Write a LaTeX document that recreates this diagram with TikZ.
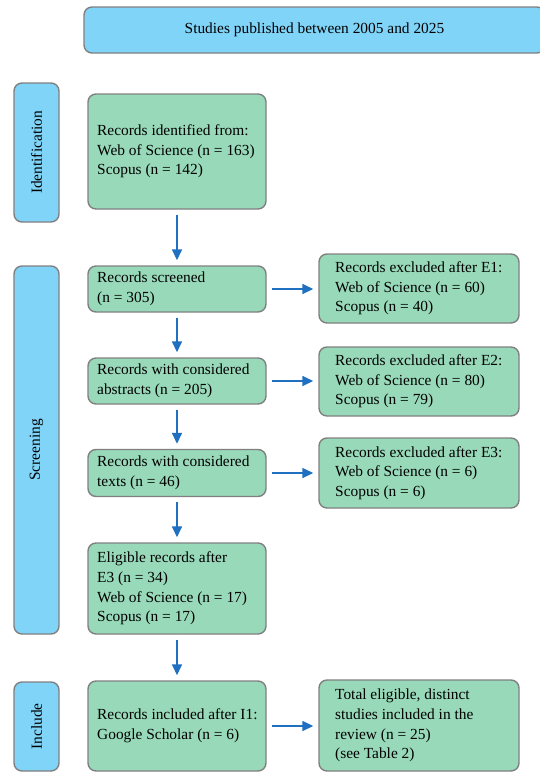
\documentclass[tikz,border=0pt]{standalone}
\usepackage{fontspec}
\setmainfont{Liberation Serif}
\usetikzlibrary{arrows.meta}
\definecolor{boxgreen}{HTML}{98D9B9}
\definecolor{labblue}{HTML}{80D4F8}
\definecolor{edgegray}{HTML}{808080}
\definecolor{arrblue}{HTML}{1F70C1}
\tikzset{
  txtfont/.style={font=\fontsize{15.4}{19.6}\selectfont},
  base/.style={draw=edgegray, line width=1.4pt, rounded corners=8pt, inner sep=0pt, txtfont},
  gbox/.style={base, fill=boxgreen},
  lbl/.style={txtfont, align=left, inner sep=0pt, anchor=west},
  phase/.style={base, fill=labblue, rotate=90, minimum height=45pt},
  flow/.style={draw=arrblue, line width=1.5pt, -{Triangle[length=11pt,width=10pt]}, shorten <=5pt, shorten >=5pt},
}
\begin{document}
\begin{tikzpicture}[x=1pt,y=-1pt]
\useasboundingbox (0,0) rectangle (540,772);
\clip (0,0) rectangle (540,772);
% top banner
\node[base, fill=labblue, minimum width=461pt, minimum height=46pt] (top) at (314.5,30) {Studies published between 2005 and 2025};
% phase labels
\node[phase, minimum width=139pt] (ph1) at (36.5,152.5) {Identification};
\node[phase, minimum width=368pt] (ph2) at (36.5,450) {Screening};
\node[phase, minimum width=89pt] (ph3) at (36.5,726.5) {Include};
% left column
\node[gbox, minimum width=178pt, minimum height=115pt] (id) at (177,151.5) {};
\node[lbl] (idt) at (97,151.5) {Records identified from:\\Web of Science (n = 163)\\Scopus (n = 142)};
\node[gbox, minimum width=178pt, minimum height=46pt] (scr) at (177,289) {};
\node[lbl] (scrt) at (97,289) {Records screened\\(n = 305)};
\node[gbox, minimum width=178pt, minimum height=46pt] (abs) at (177,381) {};
\node[lbl] (abst) at (97,381) {Records with considered\\abstracts (n = 205)};
\node[gbox, minimum width=178pt, minimum height=47pt] (txt) at (177,473) {};
\node[lbl] (txtt) at (97,473) {Records with considered\\texts (n = 46)};
\node[gbox, minimum width=178pt, minimum height=91pt] (eli) at (177,588.5) {};
\node[lbl] (elit) at (97,588.5) {Eligible records after\\E3 (n = 34)\\Web of Science (n = 17)\\Scopus (n = 17)};
\node[gbox, minimum width=178pt, minimum height=90pt] (inc) at (177,726) {};
\node[lbl] (inct) at (97,726) {Records included after I1:\\Google Scholar (n = 6)};
% right column
\node[gbox, minimum width=200pt, minimum height=69pt] (e1) at (419,288.5) {};
\node[lbl] (e1t) at (335,288.5) {Records excluded after E1:\\Web of Science (n = 60)\\Scopus (n = 40)};
\node[gbox, minimum width=200pt, minimum height=69pt] (e2) at (419,381.5) {};
\node[lbl] (e2t) at (335,381.5) {Records excluded after E2:\\Web of Science (n = 80)\\Scopus (n = 79)};
\node[gbox, minimum width=200pt, minimum height=70pt] (e3) at (419,473) {};
\node[lbl] (e3t) at (335,473) {Records excluded after E3:\\Web of Science (n = 6)\\Scopus (n = 6)};
\node[gbox, minimum width=200pt, minimum height=91pt] (fin) at (419,725.5) {};
\node[lbl] (fint) at (335,725.5) {Total eligible, distinct\\studies included in the\\review (n = 25)\\(see Table 2)};
% arrows
\draw[flow] (id.south) -- (scr.north);
\draw[flow] (scr.south) -- (abs.north);
\draw[flow] (abs.south) -- (txt.north);
\draw[flow] (txt.south) -- (eli.north);
\draw[flow] (eli.south) -- (inc.north);
\draw[flow] (scr.east) -- (e1.west |- scr.east);
\draw[flow] (abs.east) -- (e2.west |- abs.east);
\draw[flow] (txt.east) -- (e3.west |- txt.east);
\draw[flow] (inc.east) -- (fin.west |- inc.east);
\end{tikzpicture}
\end{document}
